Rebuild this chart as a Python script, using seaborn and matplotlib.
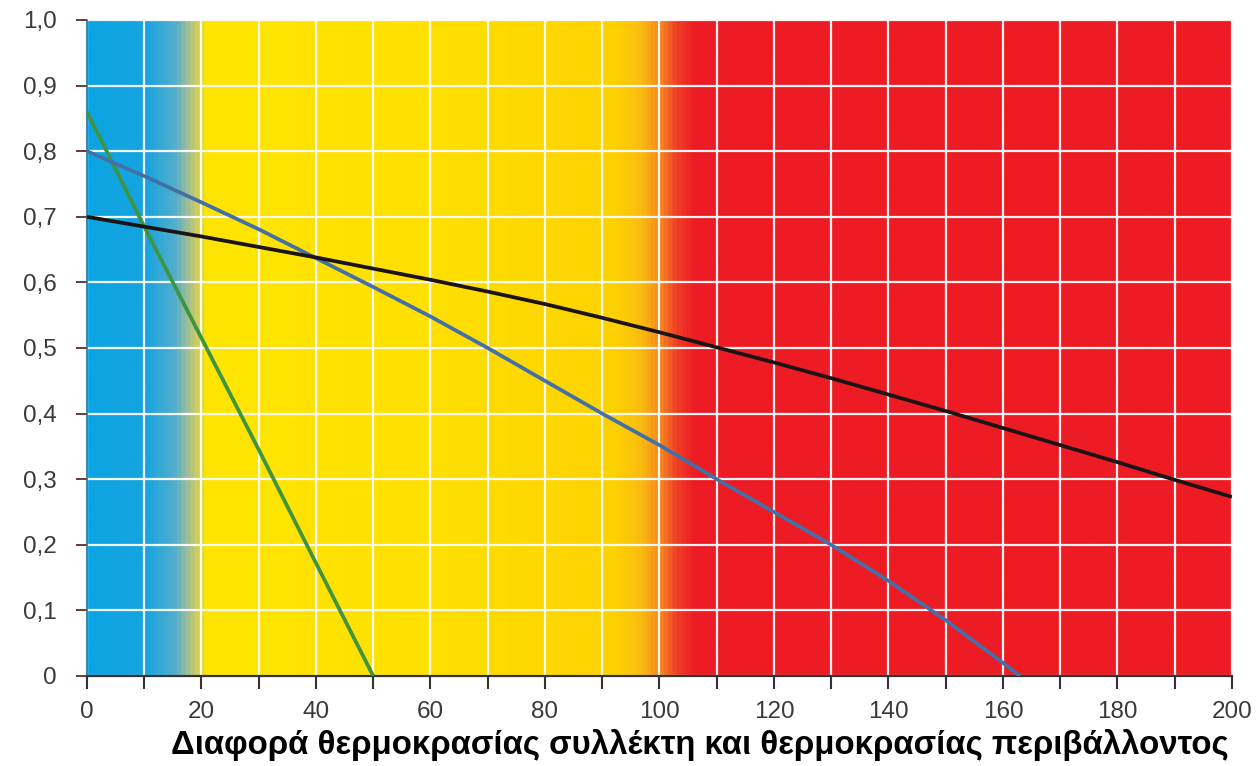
import numpy as np
import pandas as pd
import matplotlib
matplotlib.use("Agg")
import matplotlib.pyplot as plt
from matplotlib.colors import LinearSegmentedColormap
from matplotlib.ticker import MultipleLocator, FuncFormatter
import seaborn as sns

# ============================================
# DATA
# ============================================
x_green = [0, 10, 20, 30, 40, 50]
y_green = [0.86, 0.685, 0.515, 0.345, 0.172, 0.0]

x_blue = [0, 10, 20, 30, 40, 50, 60, 70, 80, 90, 100, 110, 120, 130, 140, 150, 160, 163]
y_blue = [0.80, 0.762, 0.722, 0.681, 0.637, 0.593, 0.548, 0.50, 0.45, 0.40,
          0.352, 0.30, 0.25, 0.20, 0.145, 0.085, 0.02, 0.0]

x_black = [0, 10, 20, 30, 40, 50, 60, 70, 80, 90, 100,
           110, 120, 130, 140, 150, 160, 170, 180, 190, 200]
y_black = [0.70, 0.685, 0.67, 0.654, 0.638, 0.621, 0.604, 0.586, 0.567, 0.546, 0.524,
           0.501, 0.478, 0.454, 0.429, 0.404, 0.378, 0.352, 0.326, 0.299, 0.273]

x_ticks = [0, 20, 40, 60, 80, 100, 120, 140, 160, 180, 200]
y_ticks = [0.0, 0.1, 0.2, 0.3, 0.4, 0.5, 0.6, 0.7, 0.8, 0.9, 1.0]
x_label = "Διαφορά θερμοκρασίας συλλέκτη και θερμοκρασίας περιβάλλοντος"

# background colour zones along x (fraction of 0..200)
bg_stops = [(0.0, "#0ca4e3"), (0.05, "#17a4e0"), (0.075, "#55aecb"),
            (0.09, "#b5c385"), (0.102, "#ffe502"), (0.30, "#ffe000"),
            (0.46, "#fed200"), (0.482, "#fbbf0e"), (0.50, "#f68b1f"),
            (0.516, "#ef3d26"), (0.53, "#ed1c24"), (1.0, "#ec1b24")]

# long table for seaborn
df = pd.concat([
    pd.DataFrame({"x": x_green, "y": y_green, "curve": "green"}),
    pd.DataFrame({"x": x_blue, "y": y_blue, "curve": "blue"}),
    pd.DataFrame({"x": x_black, "y": y_black, "curve": "black"}),
])
palette = {"green": "#3f9440", "blue": "#4470a8", "black": "#1c1414"}

# ============================================
# PLOT
# ============================================
sns.set_style("white")
plt.rcParams["font.family"] = ["Liberation Sans", "DejaVu Sans"]
tick_font = ["Liberation Sans Narrow", "Liberation Sans", "DejaVu Sans"]

fig = plt.figure(figsize=(12.59, 7.66), dpi=100)
ax = fig.add_axes([0.0691, 0.1175, 0.9094, 0.8564])

cmap = LinearSegmentedColormap.from_list("zones", bg_stops)
grad = np.linspace(0, 1, 800).reshape(1, -1)
ax.imshow(grad, extent=[0, 200, 0, 1], aspect="auto", cmap=cmap, zorder=0,
          interpolation="bilinear")

sns.lineplot(data=df, x="x", y="y", hue="curve", palette=palette, ax=ax,
             legend=False, linewidth=2.7, sort=False, estimator=None, zorder=3)
for ln in ax.lines:
    ln.set_solid_capstyle("butt")
    ln.set_solid_joinstyle("round")

ax.set_xlim(0, 200)
ax.set_ylim(0, 1)
ax.xaxis.set_major_locator(plt.FixedLocator(x_ticks))
ax.xaxis.set_minor_locator(MultipleLocator(10))
ax.yaxis.set_major_locator(plt.FixedLocator(y_ticks))
ax.yaxis.set_major_formatter(FuncFormatter(
    lambda v, p: "0" if v == 0 else f"{v:.1f}".replace(".", ",")))

ax.set_axisbelow(True)
ax.grid(which="both", color="white", linewidth=1.6, alpha=0.95)

for side in ["top", "right"]:
    ax.spines[side].set_visible(False)
ax.spines["left"].set_color("#1b6f96")
ax.spines["left"].set_linewidth(1.2)
ax.spines["bottom"].set_color("#333333")
ax.spines["bottom"].set_linewidth(1.6)

ax.tick_params(axis="x", which="both", direction="out", length=9, width=1.5,
               color="#333333", labelcolor="#3a3a3a", pad=9, bottom=True)
ax.tick_params(axis="y", which="major", direction="out", length=8, width=1.4,
               color="#6b3a3a", labelcolor="#3a3a3a", pad=14, left=True)
for lab in ax.get_xticklabels() + ax.get_yticklabels():
    lab.set_fontfamily(tick_font)
    lab.set_fontsize(17.5)
ax.set_xlabel("")
ax.set_ylabel("")

fig.text(700 / 1259, (766 - 745) / 766, x_label, ha="center", va="center",
         fontsize=23.8, fontweight="bold", color="black")

fig.savefig("out.png", dpi=100)
